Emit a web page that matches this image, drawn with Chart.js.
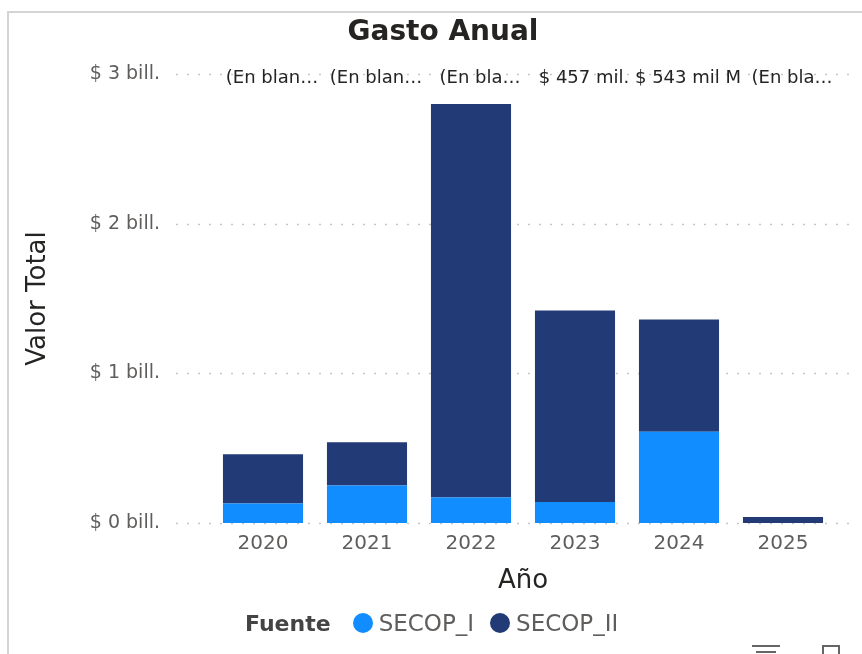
<!DOCTYPE html>
<html>
<head>
<meta charset="utf-8">
<script src="https://cdn.jsdelivr.net/npm/chart.js@4"></script>
<style>
  html, body { margin: 0; padding: 0; background: #fff; }
  #wrap { position: relative; width: 862px; height: 654px; overflow: hidden; }
  #frame { position: absolute; left: 7px; top: 11px; width: 880px; height: 680px; border: 2px solid #d4d4d4; box-sizing: border-box; }
  canvas { position: absolute; left: 0; top: 0; }
  #title { position: absolute; left: 243px; width: 400px; top: 14px; text-align: center;
           font-family: "DejaVu Sans", sans-serif; font-weight: bold; font-size: 28px; color: #252423; }
  #legend { position: absolute; left: 245px; top: 610px; display: flex; align-items: center; white-space: nowrap;
            font-family: "DejaVu Sans", sans-serif; font-size: 23px; color: #605E5C; }
  #legend .ttl { font-weight: bold; font-size: 22px; color: #444; margin-right: 22px; }
  #legend .dot { width: 20px; height: 20px; border-radius: 50%; margin-right: 6px; }
  #legend .lbl { margin-right: 16px; }
  .icon { position: absolute; background: #666; }
  .box { position: absolute; border: 2px solid #666; }
</style>
</head>
<body>
<div id="wrap">
  <div id="frame"></div>
  <canvas id="chart" width="862" height="654"></canvas>
  <div id="title">Gasto Anual</div>
  <div id="legend"></div>
  <div class="icon" style="left:752px;top:645px;width:28px;height:2px"></div>
  <div class="icon" style="left:756px;top:651px;width:20px;height:2px"></div>
  <div class="box" style="left:822px;top:645px;width:14px;height:14px"></div>
</div>
<script>
// data (values in "bill.")
const years = ['2020', '2021', '2022', '2023', '2024', '2025'];
const secopI = [0.13, 0.25, 0.17, 0.14, 0.61, 0.00];
const secopII = [0.33, 0.29, 2.63, 1.28, 0.75, 0.04];
const topLabels = ['(En blan…', '(En blan…', '(En bla…', '$ 457 mil.', '$ 543 mil M', '(En bla…'];
const yMax = 3;

const colors = { SECOP_I: '#118DFF', SECOP_II: '#223A76' };
const FONT = '"DejaVu Sans", sans-serif';

// dotted horizontal grid, wider than the plot area like Power BI
const dottedGrid = {
  id: 'dottedGrid',
  beforeDatasetsDraw(chart) {
    const { ctx, chartArea } = chart;
    const y = chart.scales.y;
    ctx.save();
    ctx.strokeStyle = '#c6c6c6';
    ctx.lineWidth = 1.5;
    ctx.setLineDash([2, 9]);
    y.ticks.forEach(t => {
      const py = Math.round(y.getPixelForValue(t.value)) + 0.5;
      ctx.beginPath();
      ctx.moveTo(chartArea.left - 35, py);
      ctx.lineTo(chart.width - 4, py);
      ctx.stroke();
    });
    ctx.restore();
  }
};

// truncated labels along the top
const topText = {
  id: 'topText',
  afterDatasetsDraw(chart) {
    const { ctx } = chart;
    const y = chart.scales.y;
    const meta = chart.getDatasetMeta(0);
    ctx.save();
    ctx.font = '18px ' + FONT;
    ctx.fillStyle = '#252423';
    ctx.textAlign = 'center';
    ctx.textBaseline = 'middle';
    meta.data.forEach((bar, i) => {
      ctx.fillText(topLabels[i], bar.x + 9, y.getPixelForValue(yMax) + 4);
    });
    ctx.restore();
  }
};

const chart = new Chart(document.getElementById('chart'), {
  type: 'bar',
  data: {
    labels: years,
    datasets: [
      { label: 'SECOP_I', data: secopI, backgroundColor: colors.SECOP_I },
      { label: 'SECOP_II', data: secopII, backgroundColor: colors.SECOP_II },
    ],
  },
  options: {
    responsive: false,
    animation: false,
    layout: { padding: { left: 0, right: 27, top: 74, bottom: 0 } },
    datasets: { bar: { barPercentage: 0.77, categoryPercentage: 1, borderWidth: 0 } },
    scales: {
      x: {
        stacked: true,
        grid: { display: false, drawTicks: false },
        border: { display: false },
        ticks: { color: '#605E5C', font: { family: FONT, size: 20 }, padding: 9 },
        title: { display: true, text: 'Año', color: '#252423', font: { family: FONT, size: 26 }, padding: { top: 0, bottom: 57 } },
        afterFit: s => { s.height = 131; },
      },
      y: {
        stacked: true,
        min: 0,
        max: yMax,
        grid: { display: false, drawTicks: false },
        border: { display: false },
        ticks: {
          stepSize: 1,
          color: '#605E5C',
          font: { family: FONT, size: 19 },
          padding: 51,
          callback: v => '$ ' + v + ' bill.',
        },
        title: { display: true, text: 'Valor Total', color: '#252423', font: { family: FONT, size: 26 }, padding: { top: 23, bottom: 0 } },
        afterFit: s => { s.width = 211; },
      },
    },
    plugins: {
      legend: { display: false },
      tooltip: { enabled: false },
    },
  },
  plugins: [dottedGrid, topText],
});

// legend row: "Fuente" + one dot per series
const legend = document.getElementById('legend');
legend.innerHTML = '<span class="ttl">Fuente</span>' + chart.data.datasets.map(ds =>
  `<span class="dot" style="background:${ds.backgroundColor}"></span><span class="lbl">${ds.label}</span>`
).join('');
</script>
</body>
</html>
